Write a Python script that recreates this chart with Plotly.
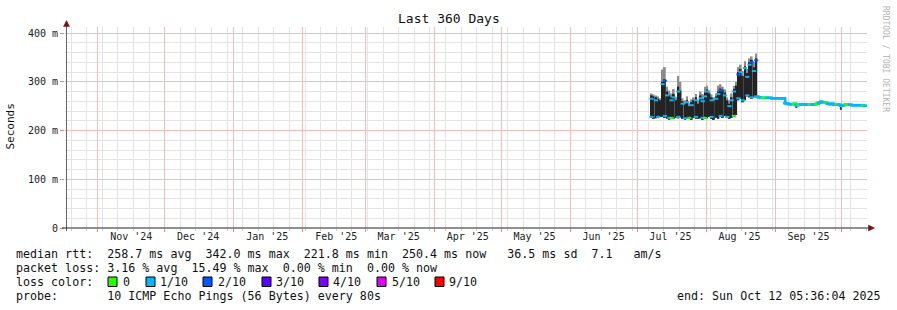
import pandas as pd
import plotly.graph_objects as go

# ---------------- data ----------------
x_start = "2024-10-17 05:36:04"
x_end = "2025-10-12 05:36:04"

month_starts = ["2024-11-01", "2024-12-01", "2025-01-01", "2025-02-01", "2025-03-01", "2025-04-01",
                "2025-05-01", "2025-06-01", "2025-07-01", "2025-08-01", "2025-09-01", "2025-10-01"]
month_label_pos = ["2024-11-16", "2024-12-16", "2025-01-16", "2025-02-16", "2025-03-16", "2025-04-16",
                   "2025-05-16", "2025-06-16", "2025-07-16", "2025-08-16", "2025-09-16"]
month_labels = ["Nov '24", "Dec '24", "Jan '25", "Feb '25", "Mar '25", "Apr '25",
                "May '25", "Jun '25", "Jul '25", "Aug '25", "Sep '25"]

y_tickvals = [0, 100, 200, 300, 400]
y_ticktext = ["0", "100 m", "200 m", "300 m", "400 m"]

# volatile period: daily smoke (ms) Jul 7 - Aug 23 2025
dates_v = pd.date_range("2025-07-07 12:00", "2025-08-23 12:00", freq="D")
smoke_lo_v = [226, 224, 225, 226, 228, 228, 226, 224, 222, 225,
              224, 226, 225, 227, 224, 222, 225, 224, 222, 226,
              224, 224, 225, 222, 224, 225, 228, 224, 222, 226,
              224, 228, 226, 230, 226, 224, 226, 228, 232, 262,
              265, 258, 262, 270, 268, 265, 268, 268]
smoke_hi_v = [272, 270, 268, 265, 262, 300, 305, 280, 272, 268,
              275, 262, 290, 282, 260, 255, 262, 250, 258, 262,
              268, 255, 272, 265, 278, 284, 276, 268, 262, 270,
              280, 286, 284, 278, 262, 255, 268, 285, 292, 320,
              326, 312, 332, 318, 340, 345, 330, 348]
smoke_top_v = [276, 274, 272, 270, 266, 325, 330, 290, 282, 276,
               285, 268, 312, 300, 266, 262, 270, 256, 264, 268,
               275, 262, 280, 275, 290, 292, 282, 274, 268, 276,
               292, 295, 290, 284, 268, 262, 276, 292, 300, 330,
               335, 322, 342, 326, 348, 352, 340, 358]
# daily medians shown near the top / bottom of the smoke (None = not visible)
med_hi_v = [265, None, 262, None, None, 295, 302, 272, None, 262,
            268, None, 280, None, 255, None, 258, None, 252, None,
            262, None, 266, 260, 270, 280, None, 262, None, 265,
            275, 282, None, 272, None, 250, 262, 280, None, 315,
            320, None, 328, 310, 335, 340, 322, 344]
med_lo_v = [228, None, None, 228, None, None, 230, None, 226, 226,
            None, None, 228, None, None, 225, None, 226, None, None,
            228, None, None, 226, 226, None, None, 228, None, None,
            None, 230, None, None, 228, None, None, 230, None, 266,
            None, 262, None, 272, None, 268, None, 270]
loss_hi_v = [1, 1, 1, 1, 1, 1, 2, 1, 1, 1,
             1, 1, 1, 1, 1, 1, 1, 1, 1, 1,
             1, 1, 1, 1, 1, 1, 1, 1, 1, 1,
             1, 2, 1, 1, 1, 1, 1, 1, 1, 2,
             1, 1, 1, 1, 1, 2, 1, 2]
loss_lo_v = [1, 1, 1, 1, 1, 1, 1, 1, 1, 0,
             1, 1, 1, 1, 1, 1, 1, 0, 1, 1,
             1, 1, 1, 1, 0, 1, 1, 1, 1, 1,
             1, 1, 1, 1, 1, 1, 1, 0, 1, 1,
             1, 1, 1, 1, 1, 1, 1, 1]

# stable period: daily median (ms) Aug 24 - Oct 11 2025
dates_s = pd.date_range("2025-08-24 12:00", "2025-10-11 12:00", freq="D")
median_s = [268, 267, 267, 267, 267, 267, 266, 266, 266, 266, 266, 266,
            256, 255, 254, 254, 255, 252, 253, 254, 254, 253, 254, 254,
            253, 254, 255, 257, 259, 258, 257, 255, 254, 255, 253, 254,
            253, 251, 252, 254, 253, 253, 252, 252, 252, 252, 252, 251, 251]
smoke_lo_s = [266, 266, 266, 266, 266, 266, 265, 265, 265, 265, 265, 265,
              254, 252, 253, 253, 253, 246, 251, 253, 253, 252, 253, 253,
              252, 253, 254, 256, 258, 257, 256, 254, 253, 254, 252, 253,
              252, 242, 250, 253, 252, 252, 251, 251, 251, 251, 251, 250, 250]
smoke_hi_s = [272, 268, 268, 268, 268, 268, 267, 267, 267, 267, 267, 267,
              264, 257, 255, 255, 256, 254, 254, 255, 255, 254, 255, 255,
              254, 255, 256, 258, 260, 259, 258, 256, 255, 256, 254, 255,
              254, 253, 253, 255, 254, 254, 253, 253, 253, 253, 253, 252, 252]
loss_s = [1, 1, 0, 0, 1, 1, 1, 1, 1, 1, 1, 1,
          1, 1, 1, 1, 0, 1, 0, 1, 1, 1, 1, 0,
          1, 1, 0, 1, 1, 1, 0, 1, 1, 1, 1, 0,
          1, 1, 1, 0, 0, 1, 1, 1, 1, 1, 1, 0, 1]

loss_colors = ["#26ff00", "#00b8ff", "#0059ff", "#5e00ff", "#7e00ff", "#dd00ff", "#ff0000"]
loss_labels = ["0", "1/10", "2/10", "3/10", "4/10", "5/10", "9/10"]

median_avg, median_max, median_min, median_now, median_sd, am_s = 258.7, 342.0, 221.8, 250.4, 36.5, 7.1
loss_avg, loss_max, loss_min, loss_now = 3.16, 15.49, 0.00, 0.00
probe_text = "10 ICMP Echo Pings (56 Bytes) every 80s"
end_text = "end: Sun Oct 12 05:36:04 2025"
title_text = "Last 360 Days"

# ---------------- layout geometry ----------------
W, H = 897, 310
L, R, T, B = 65, 30, 27, 82
PW, PH = W - L - R, H - T - B
YMAX = PH / 0.4875
FONT = "DejaVu Sans Mono"
MGRID = "#f4bcbc"
GRID = "#e4e4e4"
DAY_MS = 86400000


def px2x(px):
    return (px - L) / PW


def px2y(py):
    return (H - B - py) / PH


def nb(s):
    return s.replace(" ", "\u00a0")


fig = go.Figure()

fig.add_trace(go.Bar(x=dates_v, y=[t - l for t, l in zip(smoke_top_v, smoke_lo_v)], base=smoke_lo_v,
                     width=0.8 * DAY_MS, marker=dict(color="#8c8c8c", line_width=0),
                     hoverinfo="skip", showlegend=False))
fig.add_trace(go.Bar(x=dates_v, y=[h - l for h, l in zip(smoke_hi_v, smoke_lo_v)], base=smoke_lo_v,
                     width=0.8 * DAY_MS, marker=dict(color="#232323", line_width=0),
                     hoverinfo="skip", showlegend=False))
fig.add_trace(go.Bar(x=dates_s, y=[h - l for h, l in zip(smoke_hi_s, smoke_lo_s)], base=smoke_lo_s,
                     width=0.9 * DAY_MS, marker=dict(color="#444444", line_width=0),
                     hoverinfo="skip", showlegend=False))
fig.add_trace(go.Scatter(x=dates_v, y=med_hi_v, mode="markers",
                         marker=dict(symbol="line-ew", size=3,
                                     line=dict(width=2, color=[loss_colors[i] for i in loss_hi_v])),
                         hoverinfo="skip", showlegend=False))
fig.add_trace(go.Scatter(x=dates_v, y=med_lo_v, mode="markers",
                         marker=dict(symbol="line-ew", size=3,
                                     line=dict(width=2, color=[loss_colors[i] for i in loss_lo_v])),
                         hoverinfo="skip", showlegend=False))
fig.add_trace(go.Scatter(x=dates_s, y=median_s, mode="lines", line=dict(color=loss_colors[1], width=2.5, shape="hv"),
                         hoverinfo="skip", showlegend=False))
fig.add_trace(go.Scatter(x=dates_s, y=median_s, mode="markers",
                         marker=dict(symbol="line-ew", size=3,
                                     line=dict(width=2.5, color=[loss_colors[i] for i in loss_s])),
                         hoverinfo="skip", showlegend=False))
fig.add_trace(go.Scatter(x=[x_start], y=[0], xaxis="x2", mode="markers", marker=dict(opacity=0),
                         hoverinfo="skip", showlegend=False))

weeks = pd.date_range("2024-10-20", "2025-10-12", freq="7D")

fig.update_layout(
    width=W, height=H, autosize=False,
    margin=dict(l=L, r=R, t=T, b=B, pad=0),
    paper_bgcolor="white", plot_bgcolor="white",
    barmode="overlay",
    font=dict(family=FONT, color="#111"),
    xaxis=dict(type="date", range=[x_start, x_end], tickmode="array", tickvals=month_starts,
               showticklabels=False, showgrid=True, gridcolor=MGRID, griddash="solid", gridwidth=1,
               ticks="outside", ticklen=3, tickcolor="#f08a8a", showline=False, zeroline=False,
               minor=dict(tickmode="array", tickvals=list(weeks), showgrid=True, gridcolor=GRID,
                          griddash="solid", ticks="outside", ticklen=2, tickcolor="#cccccc"),
               fixedrange=True),
    xaxis2=dict(type="date", range=[x_start, x_end], overlaying="x", anchor="y", side="bottom",
                tickmode="array", tickvals=month_label_pos, ticktext=month_labels,
                showgrid=False, ticks="", showline=False, zeroline=False, ticklabelstandoff=1,
                tickfont=dict(family=FONT, size=10, color="#222")),
    yaxis=dict(range=[0, YMAX], tickmode="array", tickvals=y_tickvals, ticktext=y_ticktext,
               showgrid=True, gridcolor=MGRID, griddash="solid", ticks="outside", ticklen=4,
               tickcolor="#f08a8a", showline=False, zeroline=False,
               tickfont=dict(family=FONT, size=10, color="#222"),
               minor=dict(tickmode="array", tickvals=[v for v in range(20, 420, 20) if v % 100],
                          showgrid=True, gridcolor=GRID, griddash="solid"),
               fixedrange=True),
)

shapes = []
shapes.append(dict(type="line", xref="paper", yref="paper", x0=px2x(66.5), x1=px2x(66.5),
                   y0=px2y(231), y1=px2y(24), line=dict(color="#666", width=1)))
shapes.append(dict(type="line", xref="paper", yref="paper", x0=px2x(62), x1=px2x(870),
                   y0=px2y(228), y1=px2y(228), line=dict(color="#222", width=1)))
ARROW = "#7f1010"
shapes.append(dict(type="path", xref="paper", yref="paper",
                   path=f"M {px2x(66.5)},{px2y(20.5)} L {px2x(63.5)},{px2y(26.5)} L {px2x(69.5)},{px2y(26.5)} Z",
                   fillcolor=ARROW, line=dict(color=ARROW, width=0.5)))
shapes.append(dict(type="path", xref="paper", yref="paper",
                   path=f"M {px2x(874.5)},{px2y(228)} L {px2x(868.5)},{px2y(225)} L {px2x(868.5)},{px2y(231)} Z",
                   fillcolor=ARROW, line=dict(color=ARROW, width=0.5)))

box_left = [108, 146, 203, 262, 319, 377, 435]
label_left = [123, 160, 218, 276, 333, 392, 449]
annotations = []
for c, lab, bx, lx in zip(loss_colors, loss_labels, box_left, label_left):
    shapes.append(dict(type="rect", xref="paper", yref="paper", x0=px2x(bx), x1=px2x(bx + 9),
                       y0=px2y(286.5), y1=px2y(277), fillcolor=c, line=dict(color="#000", width=1)))
    annotations.append(dict(x=px2x(lx), y=px2y(282.3), xref="paper", yref="paper", text=nb(lab),
                            showarrow=False, xanchor="left", yanchor="middle",
                            font=dict(family=FONT, size=11.66, color="#111"), borderpad=0, borderwidth=0))

line1 = (f"median rtt:  {median_avg:.1f} ms avg  {median_max:.1f} ms max  {median_min:.1f} ms min  "
         f"{median_now:.1f} ms now   {median_sd:.1f} ms sd  {am_s:.1f}   am/s")
line2 = f"packet loss: {loss_avg:.2f} % avg  {loss_max:.2f} % max  {loss_min:.2f} % min  {loss_now:.2f} % now"
line3 = "loss color:"
line4 = "probe:       " + probe_text

for txt, py in [(line1, 254.3), (line2, 268.3), (line3, 282.3), (line4, 296.3)]:
    annotations.append(dict(x=px2x(16), y=px2y(py), xref="paper", yref="paper", text=nb(txt),
                            showarrow=False, xanchor="left", yanchor="middle",
                            font=dict(family=FONT, size=11.66, color="#111"), borderpad=0, borderwidth=0))
annotations.append(dict(x=px2x(881), y=px2y(296.3), xref="paper", yref="paper", text=nb(end_text),
                        showarrow=False, xanchor="right", yanchor="middle",
                        font=dict(family=FONT, size=11.66, color="#111"), borderpad=0, borderwidth=0))
annotations.append(dict(x=px2x(448.5), y=px2y(19), xref="paper", yref="paper", text=nb(title_text),
                        showarrow=False, xanchor="center", yanchor="middle",
                        font=dict(family=FONT, size=13, color="#111"), borderpad=0, borderwidth=0))
annotations.append(dict(x=px2x(10.5), y=px2y(127), xref="paper", yref="paper", text="Seconds",
                        showarrow=False, xanchor="center", yanchor="middle", textangle=-90,
                        font=dict(family=FONT, size=11, color="#111"), borderpad=0, borderwidth=0))
annotations.append(dict(x=px2x(886), y=px2y(59), xref="paper", yref="paper", text=nb("RRDTOOL / TOBI OETIKER"),
                        showarrow=False, xanchor="center", yanchor="middle", textangle=90,
                        font=dict(family=FONT, size=8, color="#b4b4b4"), borderpad=0, borderwidth=0))

fig.update_layout(shapes=shapes, annotations=annotations)
fig.write_html("out.html", config={"displayModeBar": False})
